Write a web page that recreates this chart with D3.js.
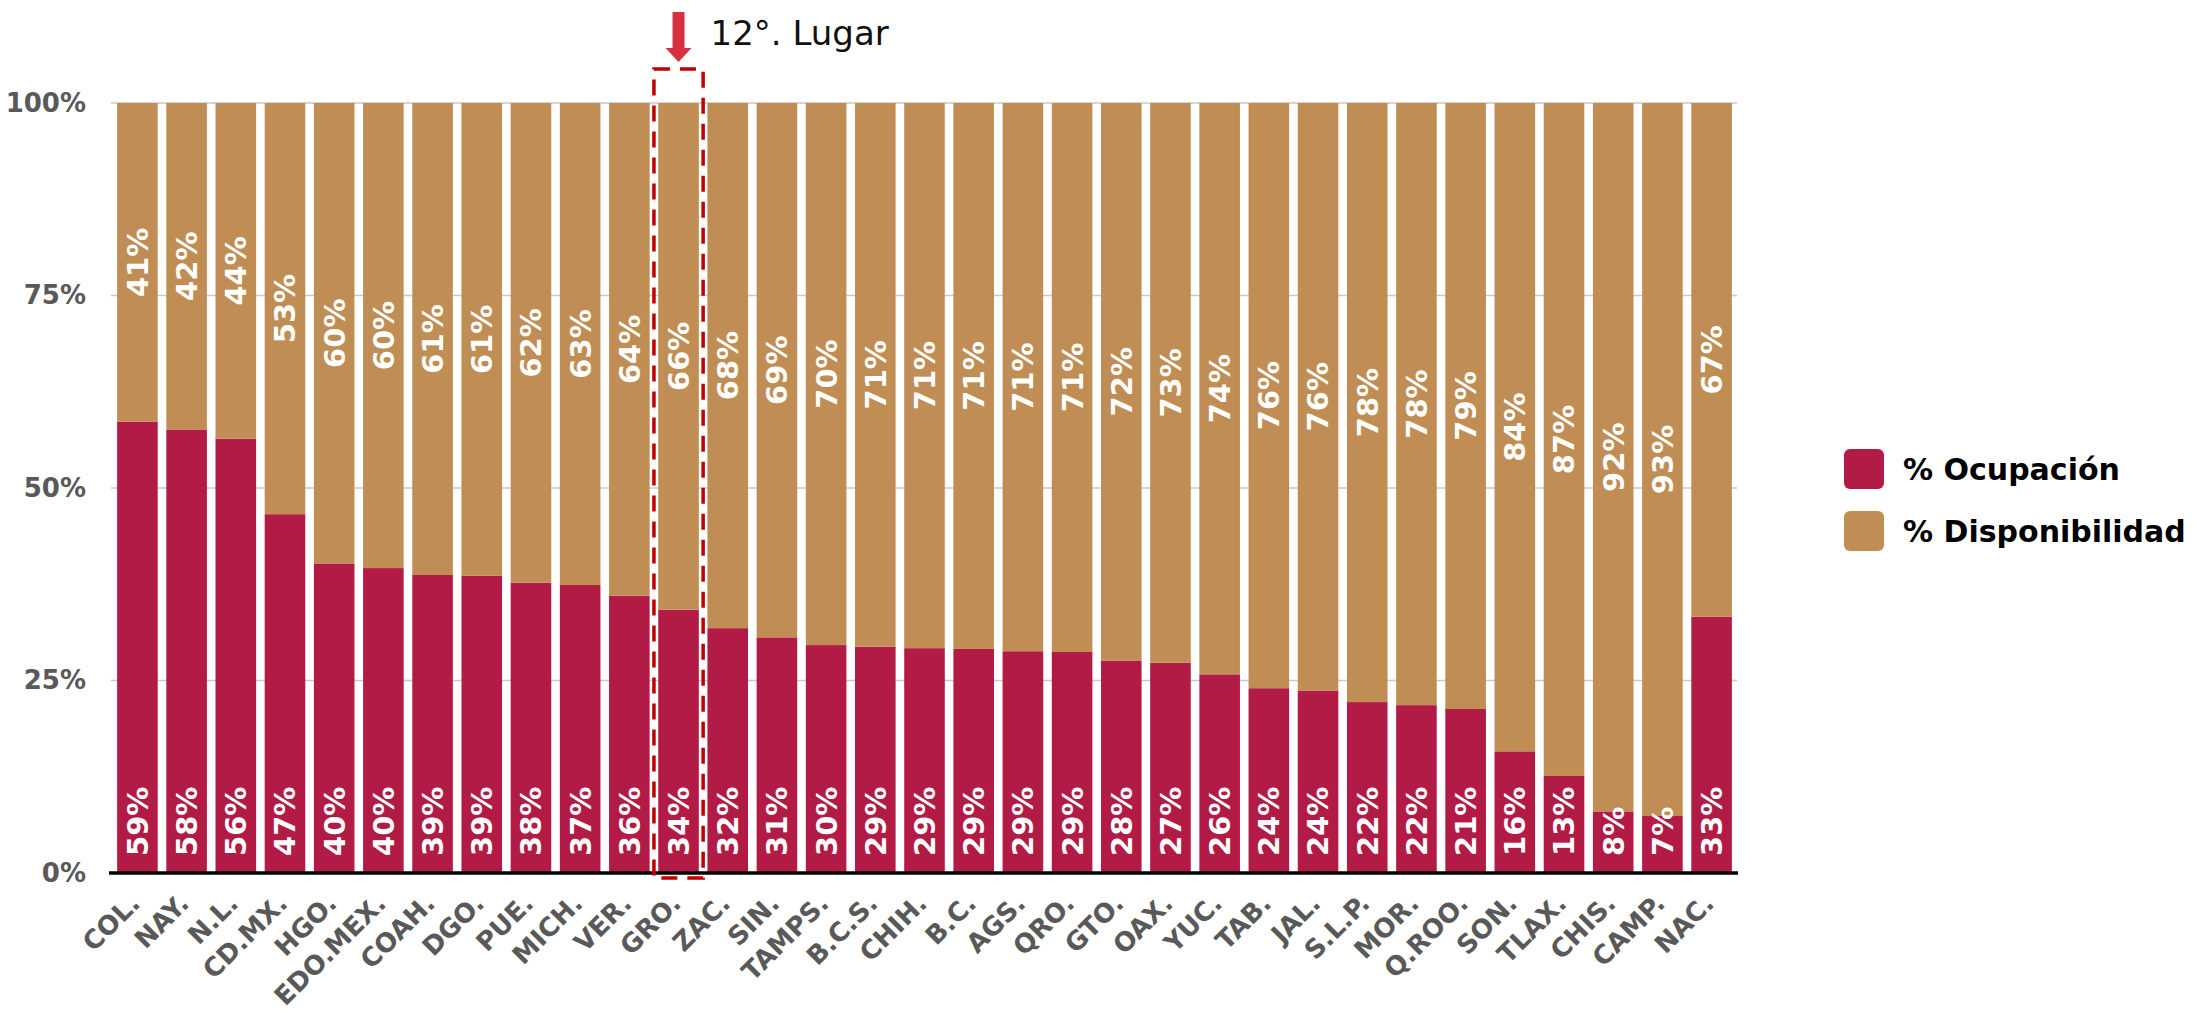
<!DOCTYPE html>
<html>
<head>
<meta charset="utf-8">
<script src="https://cdn.jsdelivr.net/npm/d3@7"></script>
<style>
  body { margin: 0; background: #fff; }
  svg { display: block; }
</style>
</head>
<body>
<script>
// States ordered as in the chart, national total last
const states = ['COL.', 'NAY.', 'N.L.', 'CD.MX.', 'HGO.', 'EDO.MEX.', 'COAH.', 'DGO.', 'PUE.', 'MICH.', 'VER.',
  'GRO.', 'ZAC.', 'SIN.', 'TAMPS.', 'B.C.S.', 'CHIH.', 'B.C.', 'AGS.', 'QRO.', 'GTO.', 'OAX.', 'YUC.',
  'TAB.', 'JAL.', 'S.L.P.', 'MOR.', 'Q.ROO.', 'SON.', 'TLAX.', 'CHIS.', 'CAMP.', 'NAC.'];

// % ocupación (bar heights)
const ocupacion = [58.6, 57.6, 56.4, 46.6, 40.2, 39.6, 38.7, 38.6, 37.7, 37.4, 36.0,
  34.2, 31.8, 30.6, 29.6, 29.4, 29.2, 29.1, 28.8, 28.7, 27.6, 27.3, 25.8,
  24.0, 23.7, 22.2, 21.8, 21.3, 15.8, 12.6, 8.0, 7.4, 33.3];

// labels printed on the bars
const ocupacionLabels = [59, 58, 56, 47, 40, 40, 39, 39, 38, 37, 36, 34, 32, 31, 30, 29, 29,
  29, 29, 29, 28, 27, 26, 24, 24, 22, 22, 21, 16, 13, 8, 7, 33];
const disponibilidadLabels = [41, 42, 44, 53, 60, 60, 61, 61, 62, 63, 64, 66, 68, 69, 70, 71, 71,
  71, 71, 71, 72, 73, 74, 76, 76, 78, 78, 79, 84, 87, 92, 93, 67];

const yTicks = [0, 25, 50, 75, 100];
const seriesNames = ['% Ocupación', '% Disponibilidad'];
const colors = ['#b21b45', '#c08e54'];
const highlight = 'GRO.';
const highlightText = '12°. Lugar';

const width = 2197;
const height = 1012;
const font = 'DejaVu Sans, sans-serif';

const rows = states.map((s, i) => ({
  state: s,
  ocup: ocupacion[i],
  ocupLabel: ocupacionLabels[i],
  dispLabel: disponibilidadLabels[i]
}));

const svg = d3.select('body').append('svg')
  .attr('width', width)
  .attr('height', height);

const x = d3.scaleBand()
  .domain(states)
  .range([109, 1740])
  .paddingInner(0.175)
  .paddingOuter(0.165);

const y = d3.scaleLinear()
  .domain([0, 100])
  .range([873, 103]);

// gridlines
svg.append('g')
  .selectAll('line')
  .data(yTicks.filter(d => d > 0))
  .enter().append('line')
  .attr('x1', 111)
  .attr('x2', 1737)
  .attr('y1', d => y(d))
  .attr('y2', d => y(d))
  .attr('stroke', '#c9c9c9')
  .attr('stroke-width', 1.5);

// y axis
const yAxis = svg.append('g')
  .attr('transform', 'translate(111,0)')
  .call(d3.axisLeft(y).tickValues(yTicks).tickSize(0).tickPadding(25).tickFormat(d => d + '%'));
yAxis.select('.domain').remove();
yAxis.selectAll('text')
  .attr('font-family', font)
  .attr('font-size', 26)
  .attr('font-weight', 'bold')
  .attr('fill', '#595959');

// stacked bars
const bars = svg.append('g');
bars.selectAll('.ocup')
  .data(rows)
  .enter().append('rect')
  .attr('class', 'ocup')
  .attr('x', d => x(d.state))
  .attr('width', x.bandwidth())
  .attr('y', d => y(d.ocup))
  .attr('height', d => y(0) - y(d.ocup))
  .attr('fill', colors[0]);

bars.selectAll('.disp')
  .data(rows)
  .enter().append('rect')
  .attr('class', 'disp')
  .attr('x', d => x(d.state))
  .attr('width', x.bandwidth())
  .attr('y', y(100))
  .attr('height', d => y(d.ocup) - y(100))
  .attr('fill', colors[1]);

// labels on bars
const cx = d => x(d.state) + x.bandwidth() / 2;

bars.selectAll('.ocupLabel')
  .data(rows)
  .enter().append('text')
  .attr('transform', d => `translate(${cx(d)},${y(0) - 17}) rotate(-90)`)
  .attr('dy', '0.36em')
  .attr('text-anchor', 'start')
  .attr('font-family', font)
  .attr('font-size', 29)
  .attr('font-weight', 'bold')
  .attr('fill', '#fff')
  .text(d => d.ocupLabel + '%');

bars.selectAll('.dispLabel')
  .data(rows)
  .enter().append('text')
  .attr('transform', d => `translate(${cx(d)},${(y(100) + y(d.ocup)) / 2}) rotate(-90)`)
  .attr('dy', '0.36em')
  .attr('text-anchor', 'middle')
  .attr('font-family', font)
  .attr('font-size', 29)
  .attr('font-weight', 'bold')
  .attr('fill', '#fff')
  .text(d => d.dispLabel + '%');

// x axis
const xAxis = svg.append('g')
  .attr('transform', `translate(0,${y(0)})`)
  .call(d3.axisBottom(x).tickSize(0));
xAxis.select('.domain').remove();
xAxis.selectAll('text')
  .attr('x', 0).attr('y', 0).attr('dy', 0)
  .attr('transform', 'translate(4,32) rotate(-45)')
  .attr('text-anchor', 'end')
  .attr('font-family', font)
  .attr('font-size', 26)
  .attr('font-weight', 'bold')
  .attr('fill', '#595959');

// baseline
svg.append('line')
  .attr('x1', 109).attr('x2', 1738)
  .attr('y1', y(0)).attr('y2', y(0))
  .attr('stroke', '#000')
  .attr('stroke-width', 3.5);

// highlight box + arrow
const hx = x(highlight) + x.bandwidth() / 2;
const step = x.step();
svg.append('rect')
  .attr('x', hx - step / 2)
  .attr('y', 69)
  .attr('width', step)
  .attr('height', 878 - 69)
  .attr('fill', 'none')
  .attr('stroke', '#c00000')
  .attr('stroke-width', 3.5)
  .attr('stroke-dasharray', '16,10');

svg.append('path')
  .attr('d', `M${hx - 6},12 L${hx + 6},12 L${hx + 6},48 L${hx + 13},48 L${hx},62 L${hx - 13},48 L${hx - 6},48 Z`)
  .attr('fill', '#d7313f');

svg.append('text')
  .attr('x', hx + 32)
  .attr('y', 45)
  .attr('font-family', font)
  .attr('font-size', 34)
  .attr('fill', '#111')
  .text(highlightText);

// legend
const legend = svg.append('g')
  .attr('transform', 'translate(1844,449)');
const item = legend.selectAll('g')
  .data(seriesNames)
  .enter().append('g')
  .attr('transform', (d, i) => `translate(0,${i * 62})`);
item.append('rect')
  .attr('width', 40).attr('height', 40)
  .attr('rx', 6)
  .attr('fill', (d, i) => colors[i]);
item.append('text')
  .attr('x', 59)
  .attr('y', 20)
  .attr('dy', '0.36em')
  .attr('font-family', font)
  .attr('font-size', 30)
  .attr('font-weight', 'bold')
  .attr('fill', '#000')
  .text(d => d);
</script>
</body>
</html>
